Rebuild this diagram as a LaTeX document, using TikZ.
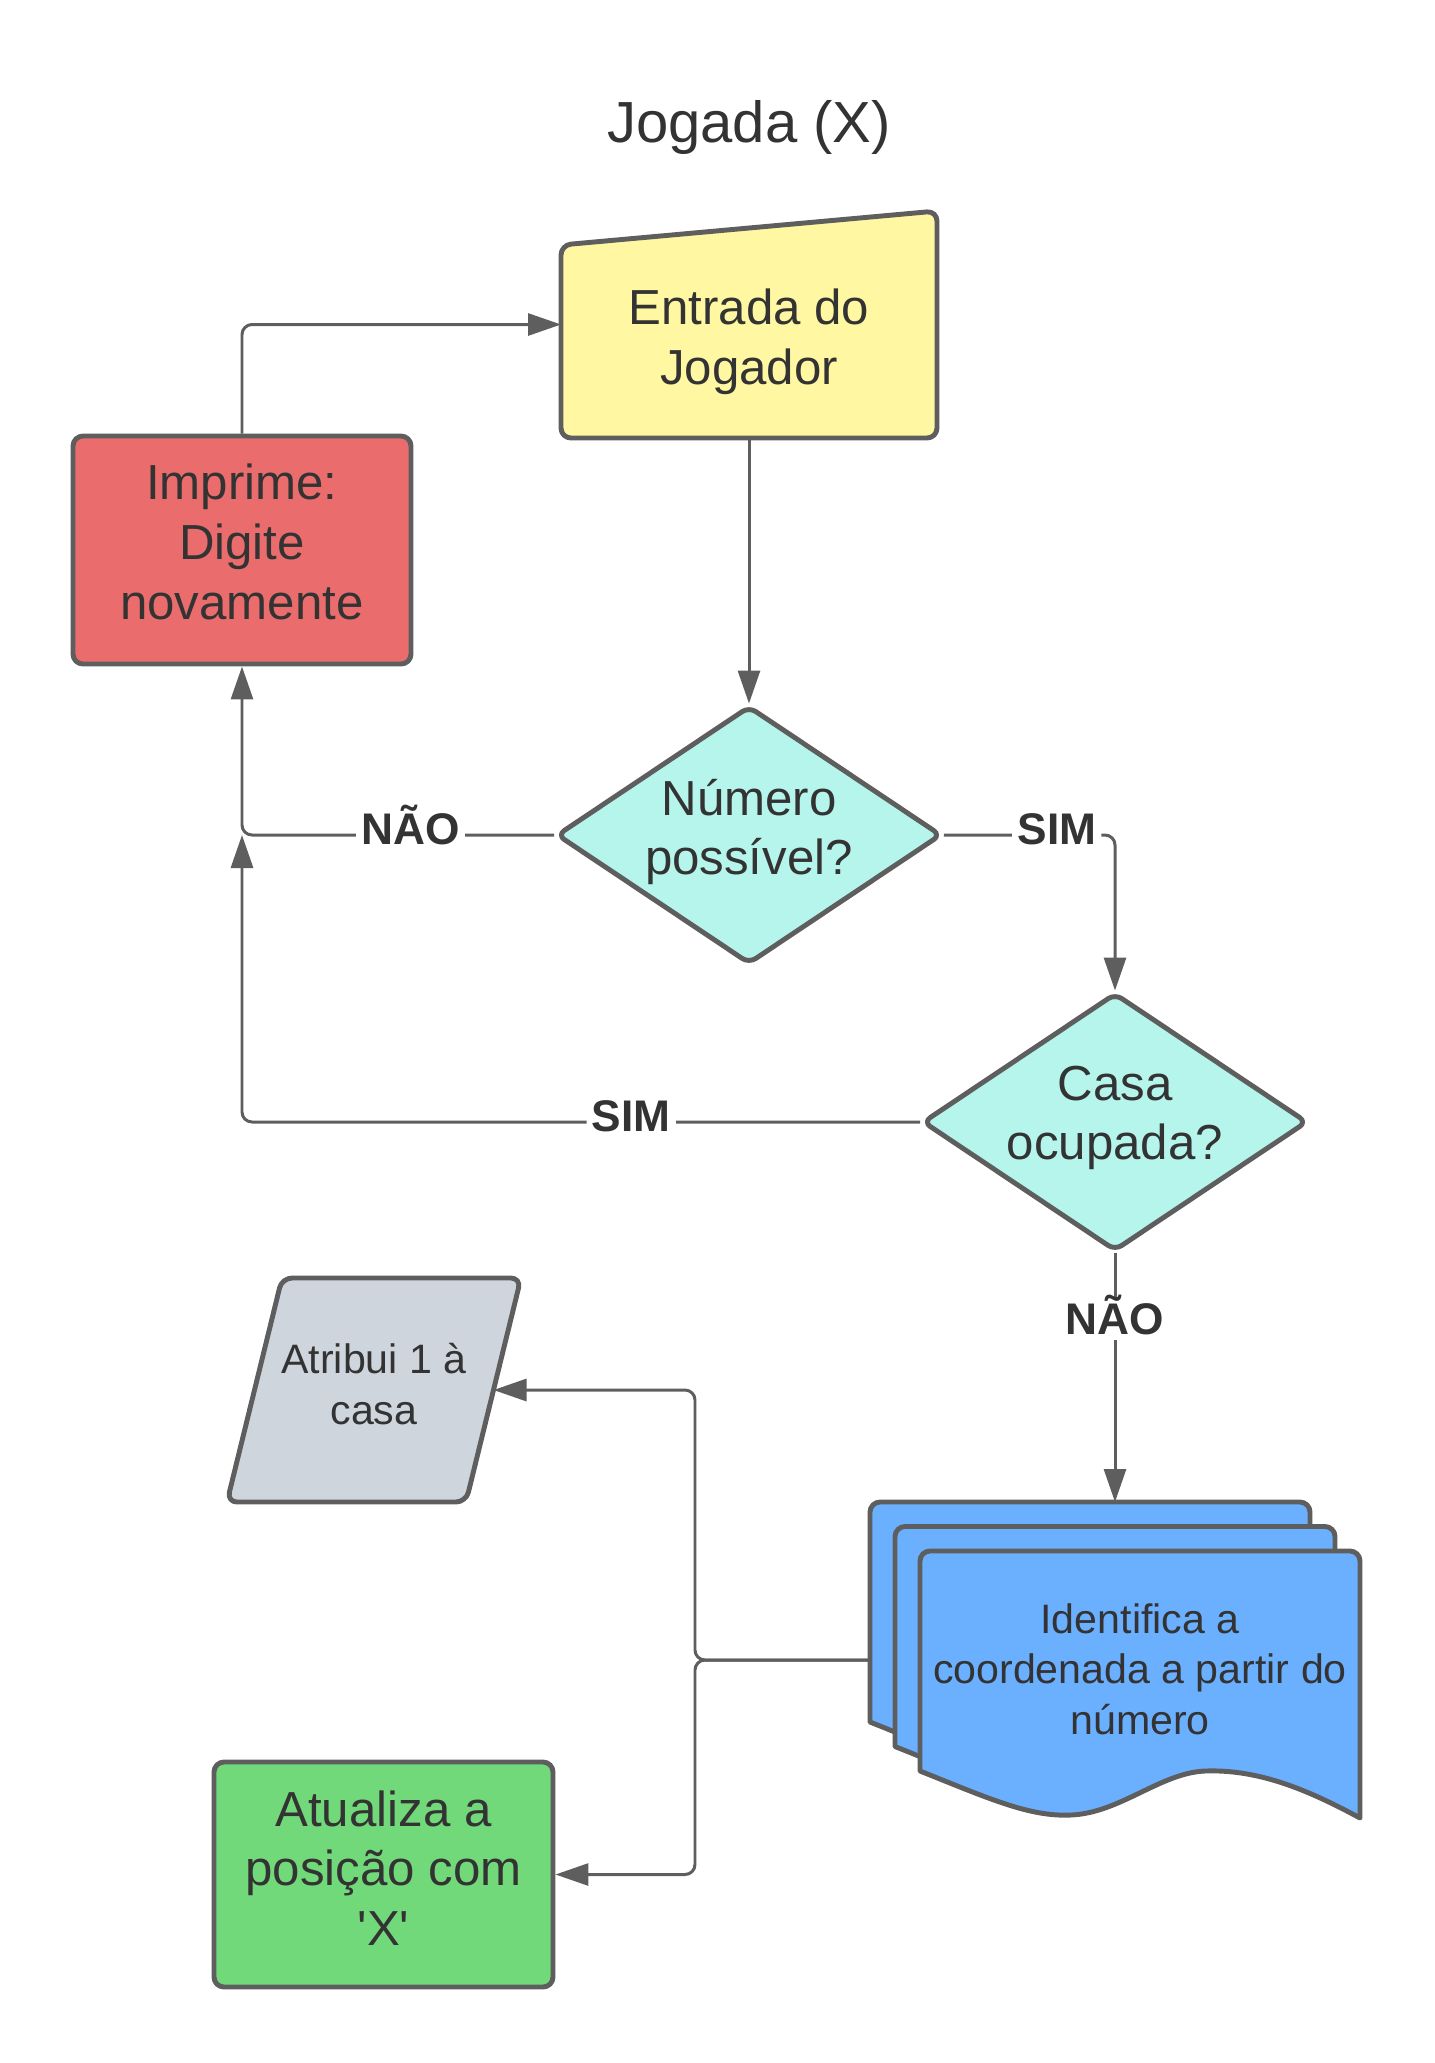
\documentclass[tikz,border=0pt]{standalone}
\usepackage{fontspec}
\setmainfont{Liberation Sans}
\usetikzlibrary{shapes.geometric, positioning, calc, arrows.meta}

\definecolor{lineGray}{HTML}{5E5E5E}
\definecolor{textGray}{HTML}{333333}
\definecolor{inputYellow}{HTML}{FFF7A1}
\definecolor{errorRed}{HTML}{EB6C6C}
\definecolor{decisionTeal}{HTML}{B5F5EC}
\definecolor{dataGray}{HTML}{CFD5DD}
\definecolor{processGreen}{HTML}{71D97A}
\definecolor{docBlue}{HTML}{6BAFFF}

\begin{document}
\begin{tikzpicture}[line join=round,
  shapeline/.style={draw=lineGray, line width=1.4pt, rounded corners=0.1cm},
  flow/.style={draw=lineGray, line width=0.85pt, rounded corners=0.1cm, -{Triangle[length=0.33cm, width=0.22cm]}},
  bigtext/.style={align=center, text=textGray, font=\fontsize{14}{17}\selectfont},
  smalltext/.style={align=center, text=textGray, font=\fontsize{11.7}{14.4}\selectfont},
  answer/.style={fill=white, text=textGray, inner sep=1.5pt, text height=9pt, text depth=0pt, font=\bfseries\fontsize{12.6}{15}\selectfont},
  decision/.style={diamond, aspect=1.49, inner sep=0pt, shapeline, rounded corners=0.08cm, fill=decisionTeal, minimum width=3.85cm, minimum height=2.58cm},
  procbox/.style={rectangle, shapeline, inner sep=0pt},
  frame/.style={inner sep=0pt, outer sep=0pt}]
\useasboundingbox (0,0) rectangle (14.34,-20.63);
% Title
\node[text=textGray, font=\fontsize{16.5}{20}\selectfont] (title) at (7.49,-1.27) {Jogada (X)};

% Input
\node[frame, minimum width=3.76cm, minimum height=2.27cm] (entrada) at (7.49,-3.245) {};
\draw[shapeline, fill=inputYellow] (entrada.south west) -- ([yshift=-0.34cm]entrada.north west) -- (entrada.north east) -- (entrada.south east) -- cycle;
\node[bigtext, yshift=-0.17cm] (entrada-text) at (entrada.center) {Entrada do\\Jogador};

% Boxes and decisions
\node[procbox, fill=errorRed, minimum width=3.38cm, minimum height=2.28cm] (imprime) at (2.42,-5.50) {};
\node[bigtext, yshift=0.08cm] (imprime-text) at (imprime.center) {Imprime:\\Digite\\novamente};
\node[decision] (numero) at (7.49,-8.35) {};
\node[bigtext, yshift=0.03cm] (numero-text) at (numero.center) {Número\\possível?};
\node[decision] (casa) at (11.15,-11.22) {};
\node[bigtext, yshift=0.04cm] (casa-text) at (casa.center) {Casa\\ocupada?};

% Document stack
\node[frame, minimum width=4.90cm, minimum height=3.16cm] (docs) at (11.15,-16.60) {};
\foreach \k in {0,1,2} {
  \draw[shapeline, sharp corners, fill=docBlue, shift={($(docs.north west)+(\k*0.25,-\k*0.245)$)}]
    (0,-2.20) -- (0,-0.1) arc[start angle=180, end angle=90, radius=0.1] -- (4.30,0)
    arc[start angle=90, end angle=0, radius=0.1] -- (4.40,-2.67)
    .. controls (3.9,-2.40) and (3.4,-2.18) .. (2.85,-2.20)
    .. controls (2.4,-2.22) and (2.0,-2.62) .. (1.51,-2.64)
    .. controls (1.1,-2.66) and (0.7,-2.48) .. (0,-2.20) -- cycle;
}
\node[smalltext] (docs-text) at ($(docs.center)+(0.25,-0.09)$) {Identifica a\\coordenada a partir do\\número};

% Data
\node[frame, minimum width=2.94cm, minimum height=2.24cm] (atribui) at (3.74,-13.90) {};
\draw[shapeline, fill=dataGray] ([xshift=0.55cm]atribui.north west) -- (atribui.north east) -- ([xshift=-0.55cm]atribui.south east) -- (atribui.south west) -- cycle;
\node[smalltext] (atribui-text) at ([yshift=0.06cm]atribui.center) {Atribui 1 à\\casa};
\coordinate (atribui-in) at ([xshift=-0.275cm]atribui.east);

\node[procbox, fill=processGreen, minimum width=3.39cm, minimum height=2.25cm] (atualiza) at (3.835,-18.745) {};
\node[bigtext, yshift=0.066cm] (atualiza-text) at (atualiza.center) {Atualiza a\\posição com\\\textquotesingle X\textquotesingle};

% Connectors
\coordinate (nao-joint) at (imprime.south |- numero.west);
\coordinate (split) at ($(docs.west)+(-1.75,0)$);
\draw[flow] (imprime.north) |- (entrada.west);
\draw[flow] (entrada.south) -- (numero.north);
\draw[flow] (numero.west) -| node[answer, pos=0.23, yshift=0.06cm] {NÃO} (imprime.south);
\draw[flow] (numero.east) -| node[answer, pos=0.33, yshift=0.06cm] {SIM} (casa.north);
\draw[flow] (casa.west) -| node[answer, pos=0.213, yshift=0.06cm] {SIM} (nao-joint);
\draw[flow] (casa.south) -- node[answer, pos=0.263] {NÃO} (docs.north);
\draw[flow] (docs.west) -- (split) |- (atribui-in);
\draw[flow] (docs.west) -- (split) |- (atualiza.east);
\end{tikzpicture}
\end{document}
